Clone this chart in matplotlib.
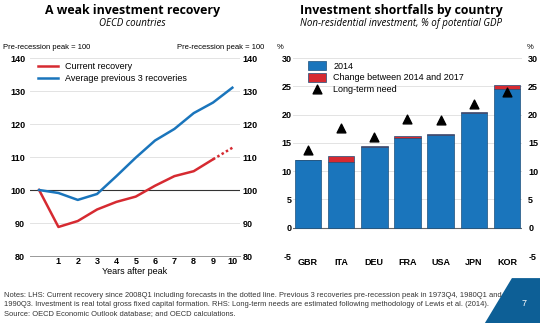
import matplotlib.pyplot as plt
from matplotlib.patches import Polygon

# Left panel: investment index, pre-recession peak = 100
anos = [0, 1, 2, 3, 4, 5, 6, 7, 8, 9]
actual = [100, 88.8, 90.6, 94.1, 96.4, 98.0, 101.3, 104.2, 105.7, 109.3]
anos_prev = [9, 10]
prevision = [109.3, 112.8]
anos_prom = [0, 1, 2, 3, 4, 5, 6, 7, 8, 9, 10]
promedio = [100, 99.1, 97.0, 98.8, 104.2, 109.8, 115.0, 118.5, 123.3, 126.5, 131.0]

# Right panel: non-residential investment, % of potential GDP
paises = ["GBR", "ITA", "DEU", "FRA", "USA", "JPN", "KOR"]
inv_2014 = [11.9, 11.6, 14.2, 15.9, 16.35, 20.3, 24.6]
cambio = [0.0, 1.1, 0.2, 0.4, 0.15, 0.1, 0.6]
necesidad = [13.8, 17.6, 16.1, 19.2, 19.1, 21.9, 24.0]

AZUL = "#1a75bc"
ROJO = "#d62a31"
GRIS = "#e3e3e3"

plt.rcParams["font.family"] = ["Liberation Sans", "DejaVu Sans"]
plt.rcParams["axes.unicode_minus"] = False

fig = plt.figure(figsize=(5.4, 3.23), dpi=100)


def etiquetas_derecha(ax, ticks, pad):
    # eje gemelo solo para las etiquetas del lado derecho
    tw = ax.twinx()
    tw.set_ylim(ax.get_ylim())
    tw.set_yticks(ticks)
    tw.tick_params(axis="y", length=0, labelsize=6.5, pad=pad)
    for lab in tw.get_yticklabels():
        lab.set_fontweight("bold")
    for s in tw.spines.values():
        s.set_visible(False)
    return tw


# ---------- panel izquierdo ----------
ax1 = fig.add_axes([0.0556, 0.2074, 0.389, 0.613])
ax1.set_xlim(-0.47, 10.4)
ax1.set_ylim(80, 140)
for y in [90, 110, 120, 130, 140]:
    ax1.axhline(y, color=GRIS, lw=0.7, zorder=0)
ax1.axhline(100, color="#333333", lw=0.8, zorder=1)
ax1.plot(anos, actual, color=ROJO, lw=1.8, label="Current recovery", zorder=3)
ax1.plot(anos_prev, prevision, color=ROJO, lw=1.8, ls=(0, (1, 1)), zorder=3)
ax1.plot(anos_prom, promedio, color=AZUL, lw=1.8,
         label="Average previous 3 recoveries", zorder=3)
ax1.set_xticks(range(1, 11))
ax1.set_yticks(range(80, 141, 10))
ax1.tick_params(axis="x", length=0, labelsize=6.5, pad=1)
ax1.tick_params(axis="y", length=0, labelsize=6.5, pad=3.5)
for lab in ax1.get_xticklabels() + ax1.get_yticklabels():
    lab.set_fontweight("bold")
for s in ["top", "left", "right"]:
    ax1.spines[s].set_visible(False)
ax1.spines["bottom"].set_color("#999999")
ax1.spines["bottom"].set_linewidth(0.7)
ax1.set_xlabel("Years after peak", fontsize=6.5, labelpad=0.5)
ax1.legend(loc="upper left", bbox_to_anchor=(0.0, 1.02), frameon=False,
           fontsize=6.5, handlelength=2.2, labelspacing=0.3)
etiquetas_derecha(ax1, range(80, 141, 10), 2)

# ---------- panel derecho ----------
ax2 = fig.add_axes([0.5426, 0.2074, 0.424, 0.613])
x = range(len(paises))
ax2.set_xlim(-0.45, 6.45)
ax2.set_ylim(-5, 30)
for y in [-5, 5, 10, 15, 20, 25, 30]:
    ax2.axhline(y, color=GRIS, lw=0.7, zorder=0)
ax2.axhline(0, color="#666666", lw=0.8, zorder=1)
b1 = ax2.bar(x, inv_2014, width=0.8, color=AZUL, edgecolor="#1d4f7a", lw=0.5,
             label="2014", zorder=2)
b2 = ax2.bar(x, cambio, bottom=inv_2014, width=0.8, color=ROJO, edgecolor="#1d4f7a",
             lw=0.5, label="Change between 2014 and 2017", zorder=2)
tri = ax2.scatter(x, necesidad, marker="^", s=40, color="black",
                  label="Long-term need", zorder=4)
ax2.set_xticks(list(x))
ax2.set_xticklabels(paises)
ax2.set_yticks(range(-5, 31, 5))
ax2.tick_params(axis="x", length=0, labelsize=6.5, pad=1.5)
ax2.tick_params(axis="y", length=0, labelsize=6.5, pad=1)
for lab in ax2.get_xticklabels() + ax2.get_yticklabels():
    lab.set_fontweight("bold")
for s in ["top", "left", "right", "bottom"]:
    ax2.spines[s].set_visible(False)
ax2.legend(handles=[b1, b2, tri], loc="upper left", bbox_to_anchor=(0.03, 1.025),
           frameon=False, fontsize=6.5, handlelength=2.0, handleheight=1.1,
           labelspacing=0.25)
etiquetas_derecha(ax2, range(-5, 31, 5), 4.5)

# ---------- textos ----------
fig.text(0.245, 0.967, "A weak investment recovery", ha="center", va="center",
         fontsize=8.9, fontweight="bold", family="Open Sans")
fig.text(0.245, 0.928, "OECD countries", ha="center", va="center",
         fontsize=7, style="italic", family="Open Sans")
fig.text(0.743, 0.967, "Investment shortfalls by country", ha="center", va="center",
         fontsize=8.9, fontweight="bold", family="Open Sans")
fig.text(0.743, 0.928, "Non-residential investment, % of potential GDP", ha="center",
         va="center", fontsize=7, style="italic", family="Open Sans")
fig.text(0.006, 0.852, "Pre-recession peak = 100", fontsize=5.5, va="center")
fig.text(0.49, 0.852, "Pre-recession peak = 100", fontsize=5.5, va="center", ha="right")
fig.text(0.513, 0.852, "%", fontsize=5.5, va="center")
fig.text(0.988, 0.852, "%", fontsize=5.5, va="center", ha="right")

notas = ("Notes: LHS: Current recovery since 2008Q1 including forecasts in the dotted line. "
         "Previous 3 recoveries pre-recession peak in 1973Q4, 1980Q1 and\n"
         "1990Q3. Investment is real total gross fixed capital formation. RHS: Long-term "
         "needs are estimated following methodology of Lewis et al. (2014).\n"
         "Source: OECD Economic Outlook database; and OECD calculations.")
fig.text(0.008, 0.095, notas, fontsize=5.4, va="top", ha="left",
         linespacing=1.38, color="#333333")

forma = Polygon([[0.898, 0.0], [0.948, 0.139], [1.0, 0.139], [1.0, 0.0]],
                closed=True, transform=fig.transFigure, color="#0d5f96", lw=0)
fig.patches.append(forma)
fig.text(0.970, 0.059, "7", color="white", fontsize=6.5, ha="center", va="center")

fig.savefig("out.png", dpi=100)
